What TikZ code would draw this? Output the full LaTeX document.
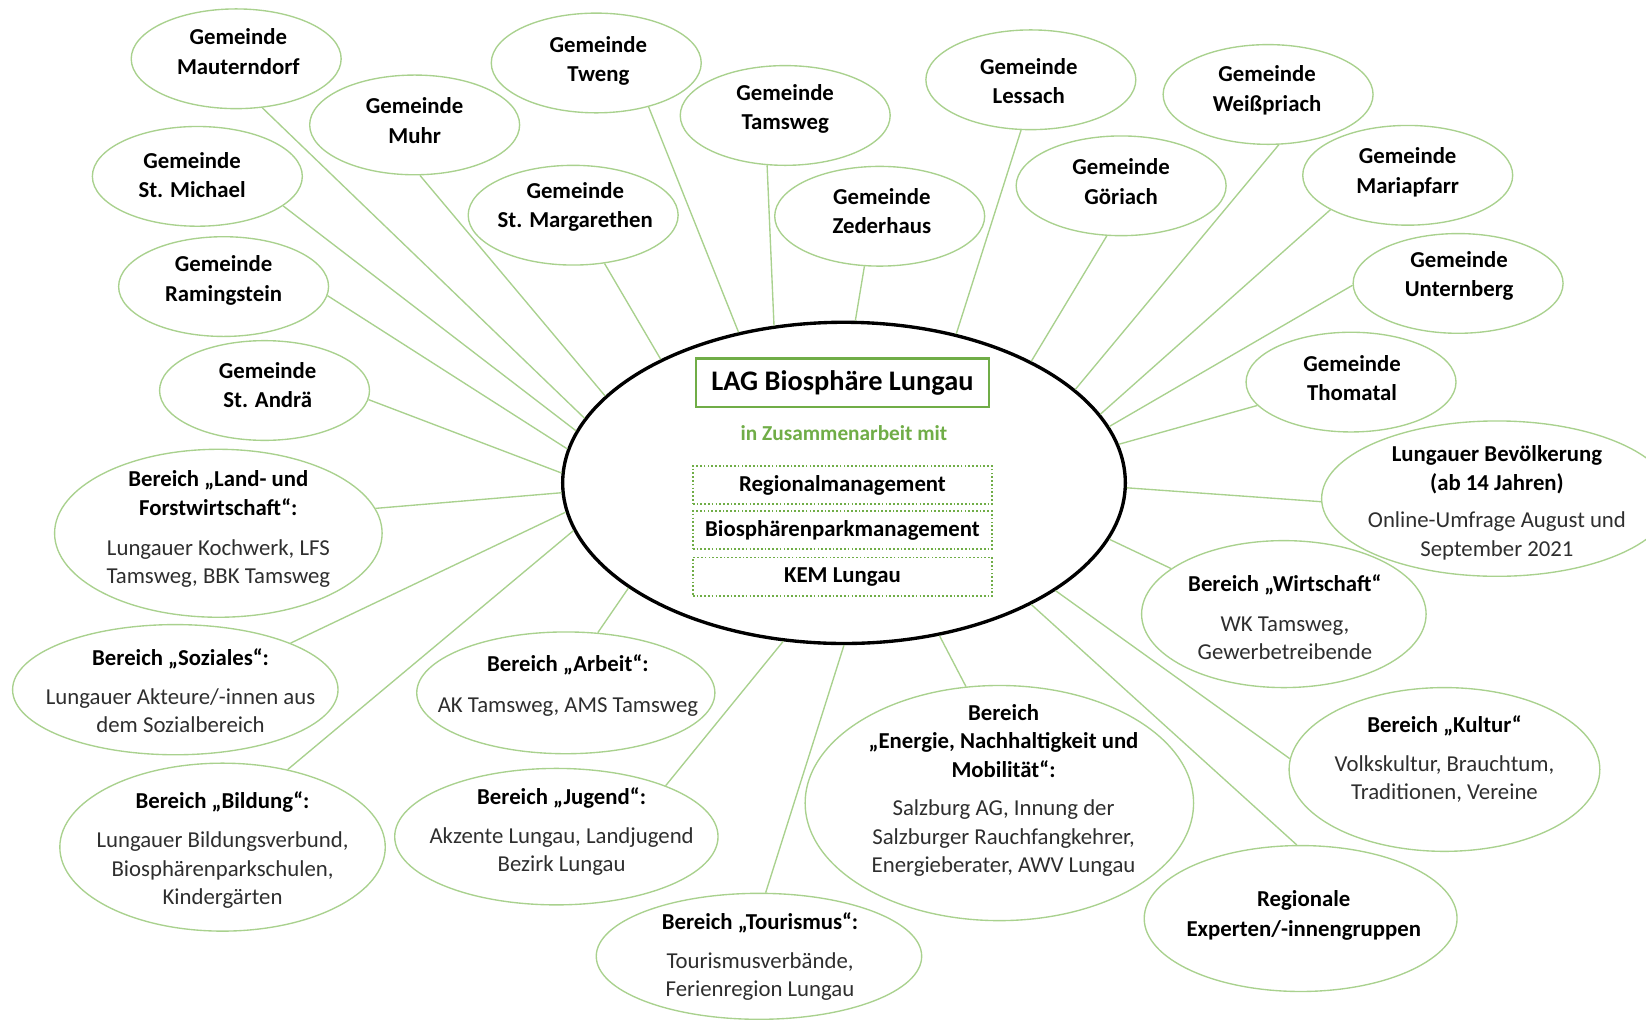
\documentclass[tikz,border=0pt]{standalone}
\usepackage{fontspec}
\setmainfont{Carlito}
\usetikzlibrary{shapes.geometric}
\definecolor{lgreen}{HTML}{A9D18E}
\definecolor{dgreen}{HTML}{70AD47}
\definecolor{txtgray}{HTML}{2E2E2E}
\newcommand\bhead[1]{{\bfseries\color{black}#1}}
\begin{document}
\begin{tikzpicture}[x=1pt,y=-1pt,
  every node/.style={font=\fontsize{21.7}{27}\selectfont},
  outer/.style={ellipse, draw=lgreen, line width=1.3pt, inner sep=0pt},
  gem/.style={outer, minimum width=200pt, minimum height=95pt},
  gtxt/.style={align=center, font=\fontsize{21.7}{28}\selectfont\bfseries, text=black},
  btxt/.style={align=center, text=txtgray},
  conn/.style={draw=lgreen, line width=1.3pt},
  dbox/.style={draw=dgreen, dotted, line width=1.6pt, minimum width=285pt, minimum height=36pt, inner sep=0pt, font=\fontsize{21.7}{27}\selectfont\bfseries}
]
\useasboundingbox (0,0) rectangle (1568,973);
\clip (0,0) rectangle (1568,973);

% central ellipse
\node[ellipse, draw=black, line width=3.2pt, minimum width=536pt, minimum height=306pt, inner sep=0pt] (lag) at (804,460) {};
\node[draw=dgreen, line width=2.2pt, minimum width=279pt, minimum height=46pt, inner sep=0pt, font=\fontsize{27}{32}\selectfont\bfseries] (lagbox) at (802.5,364.5) {LAG Biosphäre Lungau};
\node[text=dgreen, font=\fontsize{20.3}{24}\selectfont\bfseries] (zus) at (804,413) {in Zusammenarbeit mit};
\node[dbox] (regm) at (802.5,462) {Regionalmanagement};
\node[dbox] (biom) at (802.5,505) {Biosphärenparkmanagement};
\node[dbox, minimum height=37pt] (kem) at (802.5,549.5) {KEM Lungau};

% Gemeinden
\node[gem] (maut) at (225,56) {};
\node[gtxt] (maut-t) at (227,49) {Gemeinde\\Mauterndorf};
\node[gem] (muhr) at (395,119) {};
\node[gtxt] (muhr-t) at (395,115) {Gemeinde\\Muhr};
\node[gem] (tweng) at (568,60) {};
\node[gtxt] (tweng-t) at (570,58) {Gemeinde\\Tweng};
\node[gem] (tams) at (748,110) {};
\node[gtxt] (tams-t) at (748,104) {Gemeinde\\Tamsweg};
\node[gem] (less) at (982,76) {};
\node[gtxt] (less-t) at (980,77) {Gemeinde\\Lessach};
\node[gem] (weiss) at (1208,90) {};
\node[gtxt] (weiss-t) at (1207,86) {Gemeinde\\Weißpriach};
\node[gem] (mich) at (188,168) {};
\node[gtxt] (mich-t) at (183,167) {Gemeinde\\St. Michael};
\node[gem] (marg) at (546,205) {};
\node[gtxt] (marg-t) at (548,197) {Gemeinde\\St. Margarethen};
\node[gem] (zed) at (838,206) {};
\node[gtxt] (zed-t) at (840,201) {Gemeinde\\Zederhaus};
\node[gem] (gor) at (1068,177) {};
\node[gtxt] (gor-t) at (1068,173) {Gemeinde\\Göriach};
\node[gem] (mar) at (1341,167) {};
\node[gtxt] (mar-t) at (1341,164) {Gemeinde\\Mariapfarr};
\node[gem] (ram) at (213,273) {};
\node[gtxt] (ram-t) at (213,267) {Gemeinde\\Ramingstein};
\node[gem] (unt) at (1389,270) {};
\node[gtxt] (unt-t) at (1390,263) {Gemeinde\\Unternberg};
\node[gem] (andr) at (252,372) {};
\node[gtxt] (andr-t) at (255,367) {Gemeinde\\St. Andrä};
\node[gem] (thom) at (1287,364) {};
\node[gtxt] (thom-t) at (1288,360) {Gemeinde\\Thomatal};

% Bereiche
\node[outer, minimum width=312pt, minimum height=160pt] (land) at (208,508) {};
\node[btxt] (land-t) at (208,504) {\bhead{Bereich „Land- und}\\\bhead{Forstwirtschaft“:}\\[11pt]Lungauer Kochwerk, LFS\\Tamsweg, BBK Tamsweg};
\node[outer, minimum width=334pt, minimum height=148pt] (bev) at (1426,475) {};
\node[btxt] (bev-t) at (1426,479) {\bhead{Lungauer Bevölkerung}\\\bhead{(ab 14 Jahren)}\\[9pt]Online-Umfrage August und\\September 2021};
\node[outer, minimum width=271pt, minimum height=140pt] (wirt) at (1223,585) {};
\node[btxt] (wirt-t) at (1224,588) {\bhead{Bereich „Wirtschaft“}\\[11pt]WK Tamsweg,\\Gewerbetreibende};
\node[outer, minimum width=310pt, minimum height=124pt] (soz) at (167,657) {};
\node[btxt] (soz-t) at (172,658) {\bhead{Bereich „Soziales“:}\\[10pt]Lungauer Akteure/-innen aus\\dem Sozialbereich};
\node[outer, minimum width=284pt, minimum height=116pt] (arb) at (539,660) {};
\node[btxt] (arb-t) at (541,653) {\bhead{Bereich „Arbeit“:}\\[12pt]AK Tamsweg, AMS Tamsweg};
\node[outer, minimum width=296pt, minimum height=156pt] (kult) at (1376,733) {};
\node[btxt] (kult-t) at (1376,723) {\bhead{Bereich „Kultur“}\\[10pt]Volkskultur, Brauchtum,\\Traditionen, Vereine};
\node[outer, minimum width=370pt, minimum height=224pt] (ener) at (952,765) {};
\node[btxt] (ener-t) at (956,753) {\bhead{Bereich}\\\bhead{„Energie, Nachhaltigkeit und}\\\bhead{Mobilität“:}\\[10pt]Salzburg AG, Innung der\\Salzburger Rauchfangkehrer,\\Energieberater, AWV Lungau};
\node[outer, minimum width=310pt, minimum height=160pt] (bild) at (212,807) {};
\node[btxt] (bild-t) at (212,810) {\bhead{Bereich „Bildung“:}\\[10pt]Lungauer Bildungsverbund,\\Biosphärenparkschulen,\\Kindergärten};
\node[outer, minimum width=308pt, minimum height=130pt] (jug) at (530,797) {};
\node[btxt] (jug-t) at (535,792) {\bhead{Bereich „Jugend“:}\\[10pt]Akzente Lungau, Landjugend\\Bezirk Lungau};
\node[outer, minimum width=298pt, minimum height=139pt] (reg) at (1239,875) {};
\node[btxt, font=\fontsize{21.7}{29}\selectfont\bfseries, text=black] (reg-t) at (1242,872) {Regionale\\Experten/-innengruppen};
\node[outer, minimum width=310pt, minimum height=120pt] (tour) at (723,911) {};
\node[btxt] (tour-t) at (724,911) {\bhead{Bereich „Tourismus“:}\\[10pt]Tourismusverbände,\\Ferienregion Lungau};

% connectors
\draw[conn] (maut.-62) -- (lag.166);
\draw[conn] (muhr.-84) -- (lag.160);
\draw[conn] (mich.-19) -- (lag.169);
\draw[conn] (ram.-5) -- (lag.173);
\draw[conn] (andr.-5) -- (lag.178);
\draw[conn] (land.9) -- (lag.182);
\draw[conn] (soz.22) -- (lag.186);
\draw[conn] (bild.50) -- (lag.190);
\draw[conn] (arb.62) -- (lag.206);
\draw[conn] (jug.25) -- (lag.249);
\draw[conn] (tour.84) -- (lag.270);
\draw[conn] (ener.106) -- (lag.-58);
\draw[conn] (reg.93) -- (lag.-33);
\draw[conn] (kult.176) -- (lag.-27);
\draw[conn] (wirt.158) -- (lag.-12);
\draw[conn] (bev.181) -- (lag.-1);
\draw[conn] (thom.194) -- (lag.8);
\draw[conn] (unt.181) -- (lag.12);
\draw[conn] (mar.204) -- (lag.15);
\draw[conn] (weiss.-78) -- (lag.22);
\draw[conn] (gor.-106) -- (lag.33);
\draw[conn] (less.-101) -- (lag.53);
\draw[conn] (zed.-107) -- (lag.86);
\draw[conn] (tams.-110) -- (lag.114);
\draw[conn] (tweng.-40) -- (lag.125);
\draw[conn] (marg.-57) -- (lag.146);
\end{tikzpicture}
\end{document}
